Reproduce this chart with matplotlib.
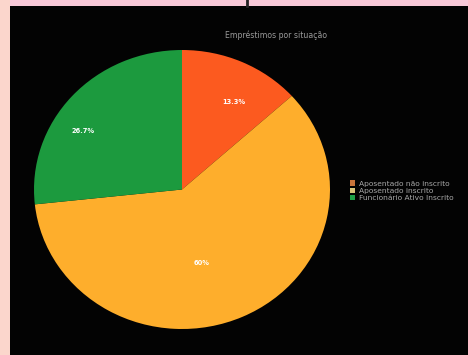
import matplotlib
matplotlib.use("Agg")
import matplotlib.pyplot as plt
from matplotlib.patches import Rectangle
from matplotlib.lines import Line2D

title = "Empréstimos por situação"
categories = ["Aposentado não inscrito", "Aposentado inscrito", "Funcionário Ativo Inscrito"]
values = [13.3, 60.0, 26.7]
colors = ["#fc5a1f", "#feae2c", "#1c9a3e"]
legend_colors = ["#c8743a", "#d8c47a", "#1fa047"]

W, H = 468, 355
fig = plt.figure(figsize=(W / 100, H / 100), dpi=100)
fig.patch.set_facecolor("#f8c9d8")

# left peach strip and black panel
fig.add_artist(Rectangle((0, 0), 10 / W, 1, transform=fig.transFigure,
                         facecolor="#fbd6cc", edgecolor="none", zorder=0))
fig.add_artist(Rectangle((10 / W, 0), 1, (H - 6) / H, transform=fig.transFigure,
                         facecolor="#030303", edgecolor="none", zorder=0))
fig.add_artist(Line2D([247 / W, 247 / W], [(H - 6) / H, 1], transform=fig.transFigure,
                      color="#222222", lw=2, zorder=1))

ax = fig.add_axes([34 / W, (H - 329) / H, 296 / W, 279 / H])
ax.set_facecolor("none")
wedges, texts, autotexts = ax.pie(values, colors=colors, startangle=90, counterclock=False,
                                  autopct=lambda p: f"{p:.1f}%".replace(".0%", "%"),
                                  pctdistance=0.7, radius=1.0,
                                  wedgeprops=dict(linewidth=0),
                                  textprops=dict(color="white", fontsize=4.8, fontweight="bold"))
ax.set_xlim(-1, 1)
ax.set_ylim(-1, 1)
ax.set_aspect("auto")
ax.axis("off")

# fine label placement (axes-data units)
label_pos = [(0.35, 0.63), (0.13, -0.53), (-0.67, 0.42)]
for t, (x, y) in zip(autotexts, label_pos):
    t.set_position((x, y))

fig.text(276 / W, 1 - 35 / H, title, color="#9a9a9a", fontsize=5.6, ha="center", va="center")

handles = [Rectangle((0, 0), 1, 1, facecolor=c, edgecolor="none") for c in legend_colors]
fig.legend(handles, categories, loc="center left", bbox_to_anchor=(346 / W, 1 - 191 / H),
           frameon=False, fontsize=5.4, labelcolor="#a8a8a8", handlelength=0.7,
           handleheight=0.7, handletextpad=0.5, labelspacing=0.15, borderpad=0)

fig.savefig("out.png", dpi=100, facecolor=fig.get_facecolor())
